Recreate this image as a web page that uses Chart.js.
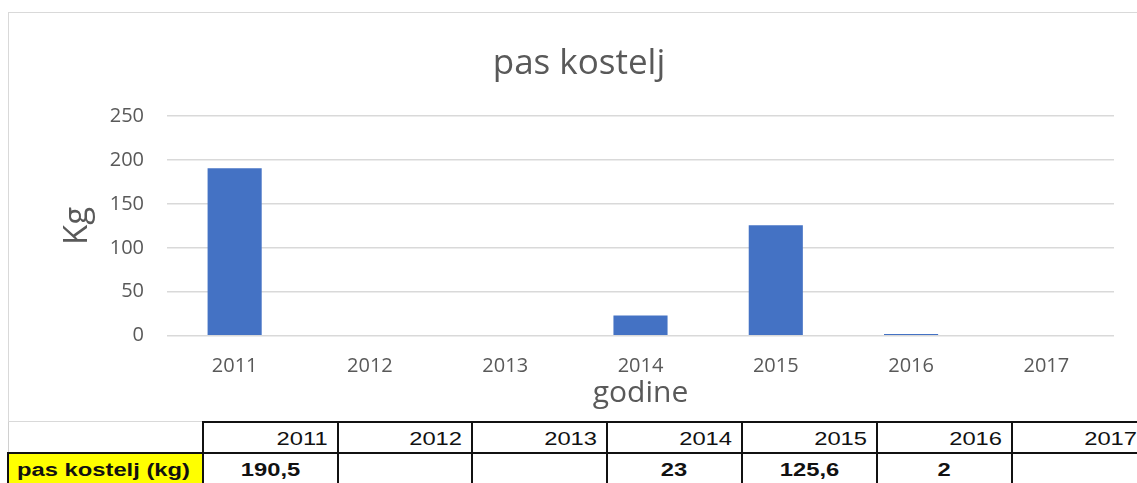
<!DOCTYPE html>
<html><head><meta charset="utf-8">
<script src="https://cdn.jsdelivr.net/npm/chart.js@4/dist/chart.umd.min.js"></script>
<style>
html,body{margin:0;padding:0;background:#fff;overflow:hidden;width:1137px;height:483px;position:relative}
#box{position:absolute;left:8px;top:12px;width:1142px;height:410px;border:1px solid #d9d9d9;box-sizing:border-box}
#c{display:block}
.ln{position:absolute;background:#111}
.t{position:absolute;font-family:"Liberation Sans",Arial,sans-serif;font-size:18px;line-height:20px;height:20px;white-space:nowrap;color:#111}
.t span{display:inline-block}
</style></head><body>
<div id="box"><canvas id="c" width="1140" height="408"></canvas></div>
<div id="tbl"></div>
<script>
const years = ['2011', '2012', '2013', '2014', '2015', '2016', '2017'];
const values = [190.5, null, null, 23, 125.6, 2, null];
const yTicks = [0, 50, 100, 150, 200, 250];
const seriesName = 'pas kostelj (kg)';
const chartTitle = 'pas kostelj';
const xTitle = 'godine';
const yTitle = 'Kg';

const grey = '#595959';
new Chart(document.getElementById('c'), {
  type: 'bar',
  data: { labels: years, datasets: [{ label: seriesName, data: values, backgroundColor: '#4472C4', barPercentage: 0.4, categoryPercentage: 1 }] },
  options: {
    responsive: false, animation: false, devicePixelRatio: 1,
    layout: { padding: { left: 35, right: 35, top: 0, bottom: 0 } },
    plugins: {
      legend: { display: false }, tooltip: { enabled: false },
      title: { display: true, text: chartTitle, color: grey, font: { family: 'Open Sans', size: 35, weight: 'normal' }, padding: { top: 30, bottom: 31 } }
    },
    scales: {
      x: {
        grid: { display: false, drawTicks: false }, border: { display: false },
        ticks: { color: grey, font: { family: 'Open Sans', size: 20 }, padding: 19, maxRotation: 0 },
        title: { display: true, text: xTitle, color: grey, font: { family: 'Open Sans', size: 30 }, padding: { top: 0, bottom: 10 } },
        afterFit(s) { s.height = 85.3; }
      },
      y: {
        min: yTicks[0], max: yTicks[yTicks.length - 1],
        ticks: { stepSize: yTicks[1] - yTicks[0], color: grey, font: { family: 'Open Sans', size: 20 }, padding: 23 },
        grid: { color: '#d9d9d9', lineWidth: 1.5, drawTicks: false }, border: { display: false },
        title: { display: true, text: yTitle, color: grey, font: { family: 'Open Sans', size: 33 }, padding: { top: 14, bottom: 0 } },
        afterFit(s) { s.width = 123; }
      }
    }
  }
});

// data table under the chart
const cols = [8, 203, 338, 472, 607, 742, 877, 1012, 1147];
const tbl = document.getElementById('tbl');
function div(cls, css, html) { const d = document.createElement('div'); d.className = cls; d.style.cssText = css; if (html !== undefined) d.innerHTML = html; tbl.appendChild(d); return d; }
div('', 'position:absolute;left:9px;top:454px;width:193px;height:30px;background:#ffff00');
div('', 'position:absolute;left:8px;top:422px;width:1px;height:30px;background:#d0d0d0');
div('ln', 'left:203px;top:421px;width:940px;height:2px');
div('ln', 'left:7px;top:452px;width:1140px;height:2px');
div('ln', 'left:7px;top:452px;width:2px;height:32px');
for (let i = 1; i < cols.length - 1; i++) div('ln', 'left:' + (cols[i] - 1) + 'px;top:421px;width:2px;height:63px');
years.forEach((y, i) => {
  const l = cols[i + 1], w = cols[i + 2] - cols[i + 1];
  div('t', 'left:' + l + 'px;top:429px;width:' + (w - 10) + 'px;text-align:right', '<span style="transform:scaleX(1.32);transform-origin:right center">' + y + '</span>');
  const v = values[i];
  if (v !== null) div('t', 'left:' + l + 'px;top:460px;width:' + w + 'px;text-align:center;font-weight:bold', '<span style="transform:scaleX(1.32);transform-origin:center center">' + String(v).replace('.', ',') + '</span>');
});
div('t', 'left:17px;top:460px;font-weight:bold', '<span style="transform:scaleX(1.32);transform-origin:left center">' + seriesName + '</span>');
</script>
</body></html>
